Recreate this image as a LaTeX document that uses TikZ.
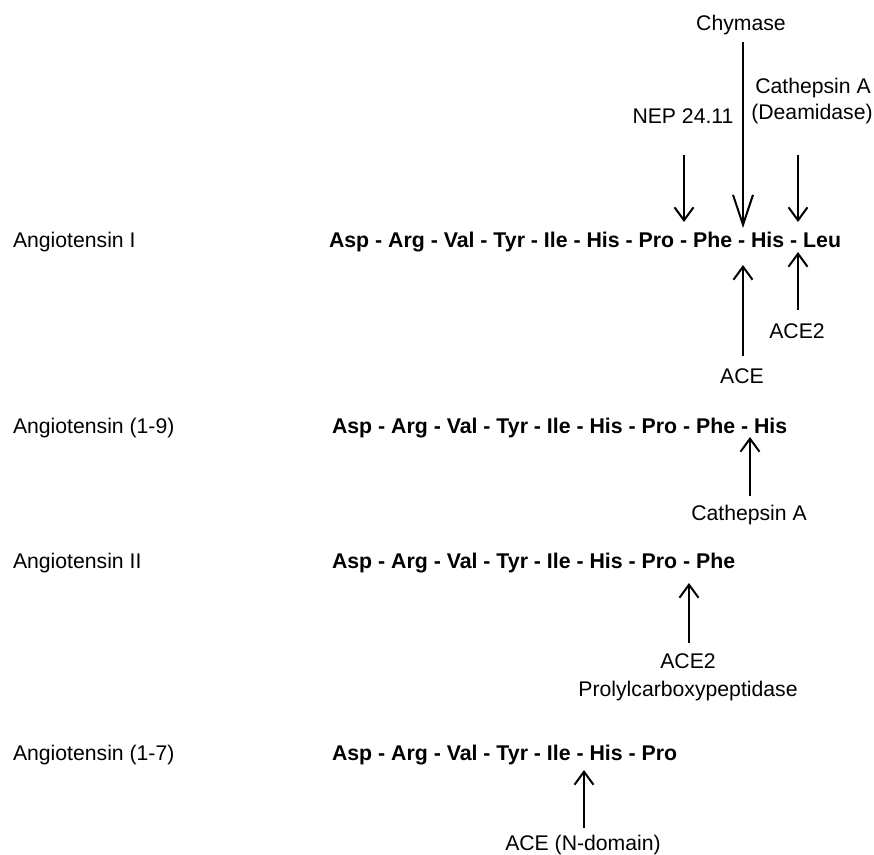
\documentclass[tikz,border=0pt]{standalone}
\usepackage{fontspec}
\setmainfont{Liberation Sans}
\usepackage{tikz}
\usetikzlibrary{arrows.meta}
\tikzset{
  pepname/.style={anchor=base west, inner sep=0pt, outer sep=0pt,
    font=\fontsize{21.2}{25}\selectfont},
  peptide/.style={anchor=base west, inner sep=0pt, outer sep=0pt,
    font=\fontsize{21.3}{25}\selectfont\bfseries},
  enzyme/.style={anchor=base, inner sep=0pt, outer sep=0pt,
    font=\fontsize{21.2}{25}\selectfont},
  cut/.style={-{Straight Barb[length=13pt,width=19pt]}, line width=2pt},
  bigcut/.style={-{Straight Barb[length=30pt,width=20pt]}, line width=2pt},
}

\begin{document}
\begin{tikzpicture}[x=1pt, y=-1pt]
\useasboundingbox (0,0) rectangle (874,854);

% peptide names
\node[pepname] (angI)  at (13,247) {Angiotensin I};
\node[pepname] (ang19) at (13,433) {Angiotensin (1-9)};
\node[pepname] (angII) at (13,568) {Angiotensin II};
\node[pepname] (ang17) at (13,760) {Angiotensin (1-7)};

% sequences
\node[peptide] (seqI)  at (329,247) {Asp - Arg - Val - Tyr - Ile - His - Pro - Phe - His - Leu};
\node[peptide] (seq19) at (332,433) {Asp - Arg - Val - Tyr - Ile - His - Pro - Phe - His};
\node[peptide] (seqII) at (332,568) {Asp - Arg - Val - Tyr - Ile - His - Pro - Phe};
\node[peptide] (seq17) at (332,760) {Asp - Arg - Val - Tyr - Ile - His - Pro};

% cleavage sites
\coordinate (cutProPhe) at (684,222);
\coordinate (cutPheHis) at (743,228);
\coordinate (cutHisLeu) at (798,222);
\coordinate (cutAce)    at (743,265);
\coordinate (cutAceTwo) at (798,252);
\coordinate (cutNine)   at (750,437);
\coordinate (cutTwo)    at (689,583);
\coordinate (cutSeven)  at (584,770);

% enzymes above Ang I
\node[enzyme] (chymase) at (741,30)  {Chymase};
\node[enzyme] (nep)     at (683,123) {NEP 24.11};
\node[enzyme] (cathA)   at (813,93)  {Cathepsin A};
\node[enzyme] (deamid)  at (812,119) {(Deamidase)};

% enzymes below the sequences
\node[enzyme] (ace)     at (742,383) {ACE};
\node[enzyme] (aceTwo)  at (797,338) {ACE2};
\node[enzyme] (cathB)   at (749,520) {Cathepsin A};
\node[enzyme] (aceTwoB) at (688,668) {ACE2};
\node[enzyme] (prolyl)  at (688,696) {Prolylcarboxypeptidase};
\node[enzyme] (aceN)    at (583,850) {ACE (N-domain)};

% cuts from above
\draw[bigcut, shorten <=7.6pt] (cutPheHis |- chymase.south) -- (cutPheHis);
\draw[cut, shorten <=32pt] (cutProPhe |- nep.south) -- (cutProPhe);
\draw[cut, shorten <=31.6pt] (cutHisLeu |- deamid.south) -- (cutHisLeu);

% cuts from below
\draw[cut, shorten <=12pt] (cutAce |- ace.north) -- (cutAce);
\draw[cut, shorten <=13.7pt] (cutAceTwo |- aceTwo.north) -- (cutAceTwo);
\draw[cut, shorten <=8.7pt] (cutNine |- cathB.north) -- (cutNine);
\draw[cut, shorten <=10.7pt] (cutTwo |- aceTwoB.north) -- (cutTwo);
\draw[cut, shorten <=6.7pt] (cutSeven |- aceN.north) -- (cutSeven);

\end{tikzpicture}
\end{document}
